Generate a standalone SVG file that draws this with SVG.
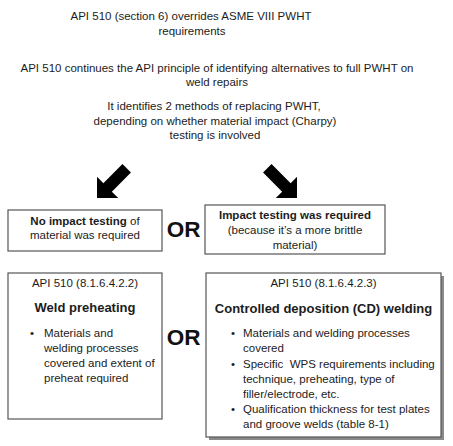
<svg xmlns="http://www.w3.org/2000/svg" width="453" height="446" viewBox="0 0 453 446">
<defs>
<style>
text{font-family:"Liberation Sans",Arial,sans-serif;fill:#1c1c1c;font-size:11.5px}
.c{text-anchor:middle}
.b{font-weight:bold}
.h{font-weight:bold;font-size:13px}
.or{font-weight:bold;font-size:22.5px;text-anchor:middle;fill:#111}
.box{fill:#fff;stroke:#555;stroke-width:1.2}
.arrow{fill:#000}
</style>
<polygon id="blockArrow" points="0,0 15,-15 6,-15 6,-42 -6,-42 -6,-15 -15,-15"/>
</defs>
<rect width="453" height="446" fill="#fff"/>
<g id="intro">
<text class="c" x="191" y="20">API 510 (section 6) overrides ASME VIII PWHT</text>
<text class="c" x="192" y="35">requirements</text>
<text class="c" x="217" y="72">API 510 continues the API principle of identifying alternatives to full PWHT on</text>
<text class="c" x="217" y="86">weld repairs</text>
<text class="c" x="214" y="110">It identifies 2 methods of replacing PWHT,</text>
<text class="c" x="215" y="125">depending on whether material impact (Charpy)</text>
<text class="c" x="215" y="139">testing is involved</text>
</g>
<g id="connectors">
<use href="#blockArrow" class="arrow" transform="translate(97,198) rotate(45)"/>
<use href="#blockArrow" class="arrow" transform="translate(297,198) rotate(-45)"/>
</g>
<g id="no-impact">
<rect class="box" x="8" y="210" width="154" height="41"/>
<text class="c" x="85" y="225"><tspan class="b">No impact testing</tspan> of</text>
<text class="c" x="85" y="239">material was required</text>
</g>
<g id="or-1">
<text class="or" x="183.5" y="237">OR</text>
</g>
<g id="impact">
<rect class="box" x="205" y="205" width="180" height="49"/>
<text class="c b" x="295" y="219">Impact testing was required</text>
<text class="c" x="295" y="234">(because it’s a more brittle</text>
<text class="c" x="295" y="249">material)</text>
</g>
<g id="weld-preheating">
<rect class="box" x="8" y="273" width="154" height="146"/>
<text class="c" x="85" y="287">API 510 (8.1.6.4.2.2)</text>
<text class="c h" x="85" y="312">Weld preheating</text>
<text x="30" y="337">•</text>
<text x="44" y="337">Materials and</text>
<text x="44" y="352">welding processes</text>
<text x="44" y="367">covered and extent of</text>
<text x="44" y="382">preheat required</text>
</g>
<g id="or-2">
<text class="or" x="183.5" y="345">OR</text>
</g>
<g id="controlled-deposition">
<rect x="209" y="276" width="235" height="164" fill="#8a8a8a"/>
<rect class="box" x="206" y="273" width="235" height="164"/>
<text class="c" x="323.5" y="287">API 510 (8.1.6.4.2.3)</text>
<text class="c h" x="323.5" y="313">Controlled deposition (CD) welding</text>
<text x="231" y="337">•</text>
<text x="243" y="337">Materials and welding processes</text>
<text x="243" y="352">covered</text>
<text x="231" y="367.5">•</text>
<text x="243" y="367.5">Specific&#160; WPS requirements including</text>
<text x="243" y="382.5">technique, preheating, type of</text>
<text x="243" y="397.5">filler/electrode, etc.</text>
<text x="231" y="413">•</text>
<text x="243" y="413">Qualification thickness for test plates</text>
<text x="243" y="428">and groove welds (table 8-1)</text>
</g>
</svg>
